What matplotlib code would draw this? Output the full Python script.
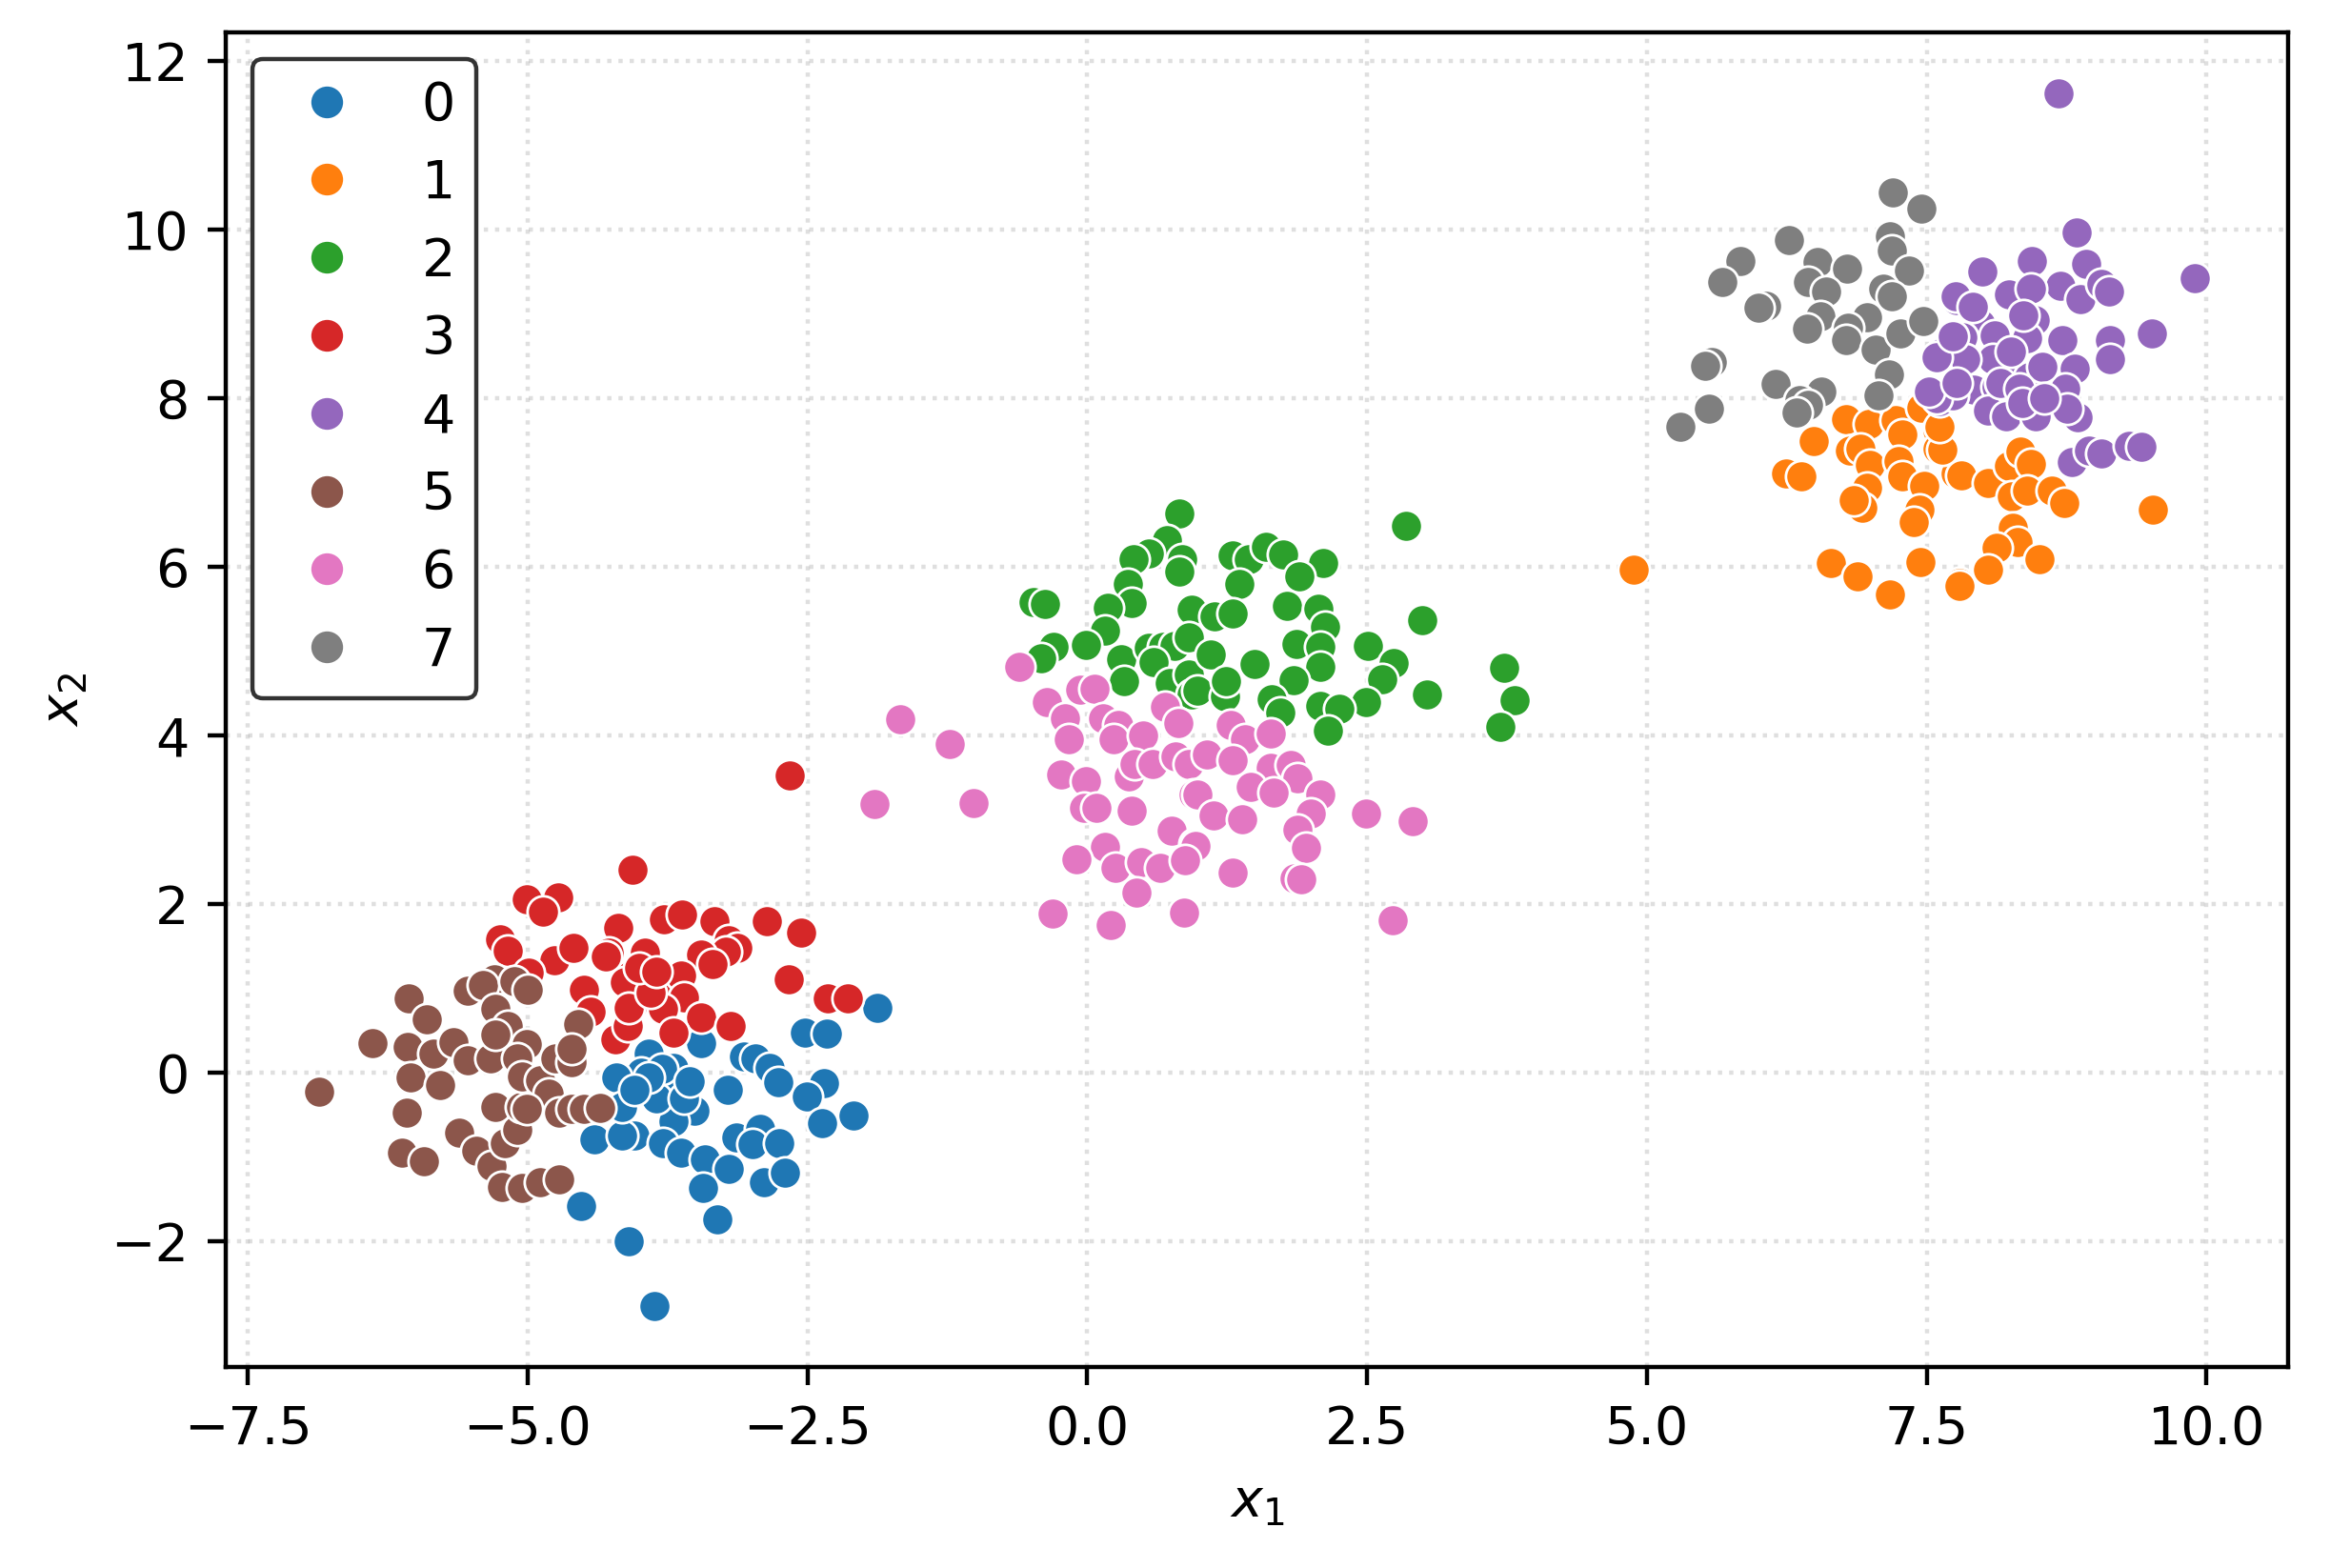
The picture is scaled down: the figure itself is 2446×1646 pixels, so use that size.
import matplotlib
matplotlib.use("Agg")
import matplotlib.pyplot as plt
from matplotlib.lines import Line2D

plt.rcParams['font.family'] = ['DejaVu Sans']
plt.rcParams['font.size'] = 10

labels = ["0", "1", "2", "3", "4", "5", "6", "7"]
colors = ["#1f77b4", "#ff7f0e", "#2ca02c", "#d62728",
          "#9467bd", "#8c564b", "#e377c2", "#7f7f7f"]

# cluster 0 (blue)
x0 = [-1.88, -2.52, -2.33, -3.45, -3.92, -3.70, -3.07, -2.97, -2.84, -2.76, -4.22, -3.91,
      -3.21, -2.35, -2.51, -2.09, -2.37, -3.51, -3.70, -4.18, -4.05, -3.79, -3.63, -3.42,
      -3.14, -2.92, -2.99, -2.75, -3.20, -3.43, -2.89, -2.70, -3.31, -4.10, -3.87, -3.71,
      -3.99, -4.21, -4.40, -4.52, -4.16, -4.16, -3.85, -3.60, -3.80, -3.92, -4.05, -3.55]
y0 = [0.77, 0.48, 0.47, 0.35, 0.23, 0.06, 0.19, 0.17, 0.06, -0.11, -0.05, -0.18,
      -0.20, -0.12, -0.28, -0.51, -0.60, -0.45, -0.58, -0.39, -0.74, -0.83, -0.95, -1.03,
      -0.77, -0.66, -0.85, -0.83, -1.14, -1.37, -1.30, -1.18, -1.74, -2.00, -2.77, -0.20,
      0.00, -0.06, -0.79, -1.58, -0.74, -0.40, -0.30, -0.30, 0.05, -0.05, -0.20, -0.10]

# cluster 1 (orange)
x1 = [4.88, 6.49, 6.24, 6.38, 6.78, 6.98, 7.22, 7.28, 7.45, 6.81, 6.91, 6.99, 7.25, 7.28,
      7.60, 7.60, 7.48, 6.97, 6.92, 6.85, 7.43, 7.38, 6.64, 6.88, 7.17, 7.44, 7.79, 7.76,
      7.81, 7.64, 7.61, 8.05, 8.23, 8.34, 8.43, 8.26, 8.40, 8.62, 8.73, 8.27, 8.31, 8.12,
      8.51, 8.05, 7.79, 9.52]
y1 = [5.97, 7.49, 7.11, 7.08, 7.75, 7.70, 7.74, 7.57, 7.89, 7.38, 7.40, 7.21, 7.26, 7.08,
      7.62, 7.40, 6.96, 6.94, 6.70, 6.79, 6.68, 6.53, 6.05, 5.89, 5.67, 6.06, 5.81, 7.11,
      7.09, 7.39, 7.66, 7.00, 7.20, 7.37, 7.22, 6.84, 6.90, 6.91, 6.76, 6.47, 6.30, 6.23,
      6.09, 5.97, 5.77, 6.68]

# cluster 2 (green)
x2 = [0.82, 0.71, 0.55, 0.41, 0.85, 0.82, 0.36, 0.40, 0.18, 0.16, 0.93, -0.48, -0.38,
      -0.30, -0.41, -0.01, 0.30, 0.33, 0.55, 0.68, 0.78, 0.59, 0.74, 0.91, 0.93, 0.91,
      2.85, 1.30, 1.44, 1.60, 1.75, 2.11, 1.89, 1.36, 1.78, 2.06, 2.12, 1.14, 1.30, 1.10,
      1.87, 2.08, 1.49, 2.08, 1.84, 2.51, 2.74, 2.63, 2.49, 2.99, 3.03, 3.72, 3.82, 3.69,
      0.98, 1.23, 1.65, 1.72, 2.08, 2.25, 2.15, 1.24]
y2 = [6.63, 6.32, 6.16, 6.09, 6.09, 5.94, 5.80, 5.57, 5.52, 5.24, 5.49, 5.58, 5.56,
      5.05, 4.92, 5.07, 4.90, 4.64, 5.04, 5.05, 5.06, 4.87, 4.62, 4.73, 4.49, 5.17,
      6.49, 6.14, 6.09, 6.24, 6.15, 6.05, 5.89, 5.80, 5.54, 5.51, 5.29, 5.41, 5.45, 4.96,
      5.09, 5.05, 4.85, 4.81, 4.66, 5.06, 4.86, 4.67, 4.40, 5.37, 4.49, 4.80, 4.42, 4.10,
      4.53, 4.47, 4.43, 4.27, 4.35, 4.32, 4.06, 4.64]

# cluster 3 (red)
x3 = [-4.06, -3.78, -3.62, -3.33, -2.86, -2.56, -4.19, -3.20, -3.13, -3.23, -3.45, -3.35,
      -3.95, -4.28, -4.08, -3.95, -3.78, -3.63, -3.60, -4.06, -3.79, -3.45, -3.19, -3.70,
      -4.22, -2.67, -2.32, -2.14, -4.11, -5.01, -4.73, -4.86, -5.25, -5.18, -4.76, -4.59,
      -4.99, -4.30, -4.50, -4.44, -4.13, -4.10, -2.66, -3.90, -4.00, -3.85]
y3 = [2.41, 1.82, 1.88, 1.80, 1.80, 1.66, 1.72, 1.57, 1.48, 1.44, 1.40, 1.29,
      1.42, 1.42, 1.15, 1.04, 1.10, 1.15, 0.89, 0.80, 0.76, 0.66, 0.55, 0.48,
      0.40, 1.11, 0.88, 0.88, 0.55, 2.06, 2.08, 1.91, 1.58, 1.45, 1.34, 1.48,
      1.19, 1.38, 0.98, 0.72, 1.08, 0.77, 3.53, 0.95, 1.25, 1.20]

# cluster 4 (purple)
x4 = [8.68, 8.84, 9.89, 8.44, 8.00, 8.92, 8.69, 8.87, 9.06, 9.13, 8.23, 8.43, 7.77, 8.46,
      7.98, 8.11, 7.82, 8.40, 8.71, 9.14, 9.51, 9.14, 8.82, 8.26, 8.41, 8.09, 7.64, 7.61,
      7.92, 8.12, 8.63, 8.74, 8.05, 8.21, 8.47, 8.85, 8.80, 8.95, 9.06, 9.31, 9.42, 7.73,
      7.84, 7.76, 7.59, 7.73, 7.59, 7.52, 7.91, 8.36, 8.53, 8.16, 8.33, 8.75, 7.77,
      8.35, 8.55, 8.25]
y4 = [11.62, 9.97, 9.43, 9.63, 9.50, 9.60, 9.34, 9.18, 9.36, 9.27, 9.23, 9.30, 9.17, 8.93,
      8.88, 8.75, 8.72, 8.71, 8.69, 8.69, 8.77, 8.46, 8.35, 8.33, 8.25, 8.46, 8.54, 7.97,
      8.10, 8.14, 8.10, 8.12, 7.85, 7.79, 7.79, 7.77, 7.25, 7.38, 7.35, 7.44, 7.42, 8.04,
      8.46, 9.21, 8.49, 8.74, 8.00, 8.08, 9.09, 8.99, 8.37, 8.18, 8.11, 7.88, 8.18,
      7.95, 8.00, 8.55]

# cluster 5 (brown)
x5 = [-6.86, -6.39, -6.06, -5.90, -6.07, -5.84, -5.66, -6.05, -5.78, -6.08, -6.12, -5.93,
      -5.61, -5.46, -5.32, -5.23, -5.05, -4.89, -4.72, -5.20, -5.09, -5.29, -5.06, -5.54,
      -5.33, -5.54, -5.30, -5.40, -5.29, -5.18, -5.29, -5.01, -5.09, -5.05, -4.89, -4.81,
      -4.72, -4.61, -4.50, -4.35, -4.75, -4.61, -4.55, -5.12, -5.00, -4.61, -5.01]
y5 = [-0.22, 0.35, 0.88, 0.63, 0.31, 0.23, 0.36, -0.05, -0.14, -0.47, -0.95, -1.05,
      -0.71, -0.93, -1.11, -1.35, -1.37, -1.30, -1.26, -0.83, -0.68, -0.40, -0.40, 0.15,
      0.17, 0.97, 1.11, 1.04, 0.76, 0.55, 0.45, 0.34, 0.17, -0.04, -0.09, -0.25,
      -0.47, -0.43, -0.43, -0.42, 0.17, 0.13, 0.58, 1.09, 0.98, 0.28, -0.43]

# cluster 6 (pink)
x6 = [-0.61, -1.67, -1.23, -1.90, -1.02, -0.36, -0.06, 0.06, -0.20, -0.17, -0.23, -0.01,
      -0.03, 0.08, 0.40, 0.14, 0.28, 0.23, 0.50, 0.69, 0.81, 0.37, 0.42, 0.58, 0.79, 0.91,
      0.95, 0.75, 0.96, 0.16, -0.10, 0.25, 0.48, 0.65, 0.44, -0.31, 0.21, 0.86,
      1.28, 1.41, 1.64, 1.07, 1.30, 1.64, 1.82, 1.88, 1.46, 1.66, 2.08, 0.98, 1.13, 1.38,
      2.00, 1.88, 1.95, 0.97, 0.87, 1.30, 1.85, 1.91, 2.49, 2.91, 2.73]
y6 = [4.82, 4.19, 3.90, 3.19, 3.20, 4.40, 4.54, 4.56, 4.20, 3.96, 3.54, 3.46,
      3.14, 3.14, 3.11, 4.20, 4.13, 3.96, 4.00, 4.34, 4.15, 3.52, 3.66, 3.66, 3.75, 3.66,
      3.30, 2.87, 2.71, 2.68, 2.53, 2.43, 2.50, 2.43, 2.14, 1.89, 1.75, 1.90,
      4.13, 3.96, 4.02, 3.77, 3.71, 3.62, 3.65, 3.49, 3.39, 3.32, 3.30, 3.30, 3.05, 3.01,
      3.07, 2.88, 2.67, 2.69, 2.52, 2.37, 2.31, 2.30, 3.07, 2.98, 1.81]

# cluster 7 (gray)
x7 = [7.20, 7.45, 6.27, 7.17, 7.19, 5.83, 5.67, 7.34, 6.52, 6.79, 6.44, 6.60, 6.06, 6.00,
      7.11, 7.19, 6.55, 6.43, 6.97, 6.80, 6.78, 7.04, 7.26, 7.47, 7.16, 7.07, 5.58, 5.52,
      6.15, 6.56, 6.36, 6.44, 6.34, 5.55, 5.30]
y7 = [10.44, 10.25, 9.88, 9.92, 9.75, 9.63, 9.38, 9.51, 9.62, 9.54, 9.38, 9.27, 9.10, 9.07,
      9.30, 9.21, 8.97, 8.83, 8.96, 8.84, 8.69, 8.58, 8.77, 8.92, 8.28, 8.03, 8.43, 8.38,
      8.17, 8.08, 7.98, 7.92, 7.83, 7.88, 7.66]

xs = [x0, x1, x2, x3, x4, x5, x6, x7]
ys = [y0, y1, y2, y3, y4, y5, y6, y7]

fig = plt.figure(figsize=(6.115, 4.115), dpi=400)
ax = fig.add_axes([0.0969, 0.1282, 0.9820 - 0.0969, 0.9793 - 0.1282])

for xv, yv, c in zip(xs, ys, colors):
    ax.scatter(xv, yv, s=36, c=c, edgecolors='white', linewidths=0.5, zorder=2)

ax.set_axisbelow(True)
ax.grid(True, linestyle=':', color='#b0b0b0', alpha=0.4, linewidth=0.8)
ax.set_xlabel('$x_1$')
ax.set_ylabel('$x_2$')

handles = [Line2D([], [], marker='o', linestyle='', color=c, markersize=6,
                  markeredgewidth=0) for c in colors]
leg = ax.legend(handles, labels, loc='upper left', framealpha=1,
                edgecolor='0.2', fancybox=True)
leg.get_frame().set_linewidth(0.8)

fig.savefig('out.png', dpi=400)
